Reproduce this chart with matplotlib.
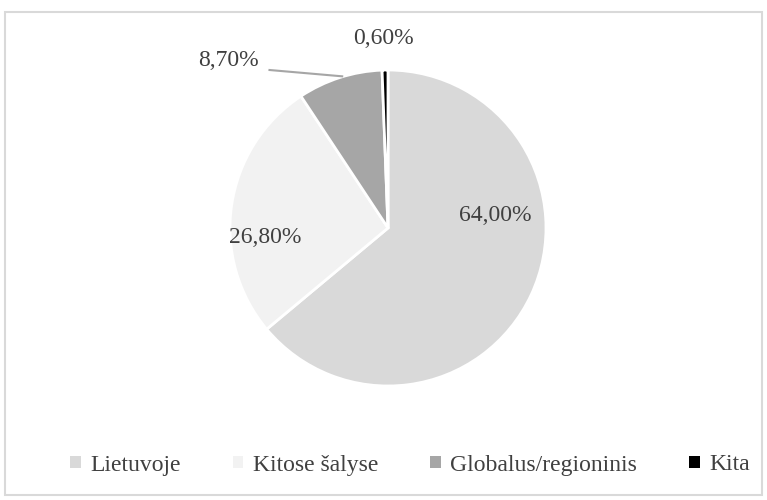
import matplotlib
matplotlib.use("Agg")
import matplotlib.pyplot as plt
from matplotlib.patches import Rectangle

# Data
categories = ["Lietuvoje", "Kitose šalyse", "Globalus/regioninis", "Kita"]
shares = [64.0, 26.8, 8.7, 0.6]
colors = ["#d9d9d9", "#f2f2f2", "#a6a6a6", "#000000"]

# label positions (in pie radius units)
label_pos = [(0.68, 0.08), (-0.78, -0.06), (-1.01, 1.06), (-0.03, 1.20)]

plt.rcParams["font.family"] = ["Liberation Serif", "DejaVu Serif"]
text_color = "#404040"

fig = plt.figure(figsize=(7.67, 5.0), dpi=100)

# pie axes: center (388, 228) px, radius 158 px
cx, cy, r = 388, 228, 158
ax = fig.add_axes([(cx - r) / 767, (500 - cy - r) / 500, 2 * r / 767, 2 * r / 500])

wedges, _ = ax.pie(shares, colors=colors, startangle=90, counterclock=False,
                   radius=1.0, wedgeprops=dict(edgecolor="white", linewidth=2))
ax.set_xlim(-1, 1)
ax.set_ylim(-1, 1)
ax.set_aspect("equal")
ax.axis("off")

# percentage labels
for val, (x, y) in zip(shares, label_pos):
    txt = f"{val:.2f}%".replace(".", ",")
    ax.text(x, y, txt, ha="center", va="center", fontsize=17, color=text_color)

# leader line for 8,70%
ax.plot([-0.75, -0.29], [1.0, 0.96], color="#a6a6a6", linewidth=1.5, clip_on=False)

# legend
leg = fig.legend(wedges, categories, loc="center", bbox_to_anchor=(410 / 767, 1 - 465 / 500),
                 ncol=4, frameon=False, fontsize=17, handlelength=0.45, handleheight=0.45,
                 columnspacing=2.2, handletextpad=0.4)
for t in leg.get_texts():
    t.set_color(text_color)
for h in leg.legend_handles:
    h.set_edgecolor("none")

# chart border
fig.patches.append(Rectangle((5 / 767, 5 / 500), 757 / 767, 483 / 500, transform=fig.transFigure,
                             fill=False, edgecolor="#d9d9d9", linewidth=1.5))

fig.savefig("out.png", dpi=100)
